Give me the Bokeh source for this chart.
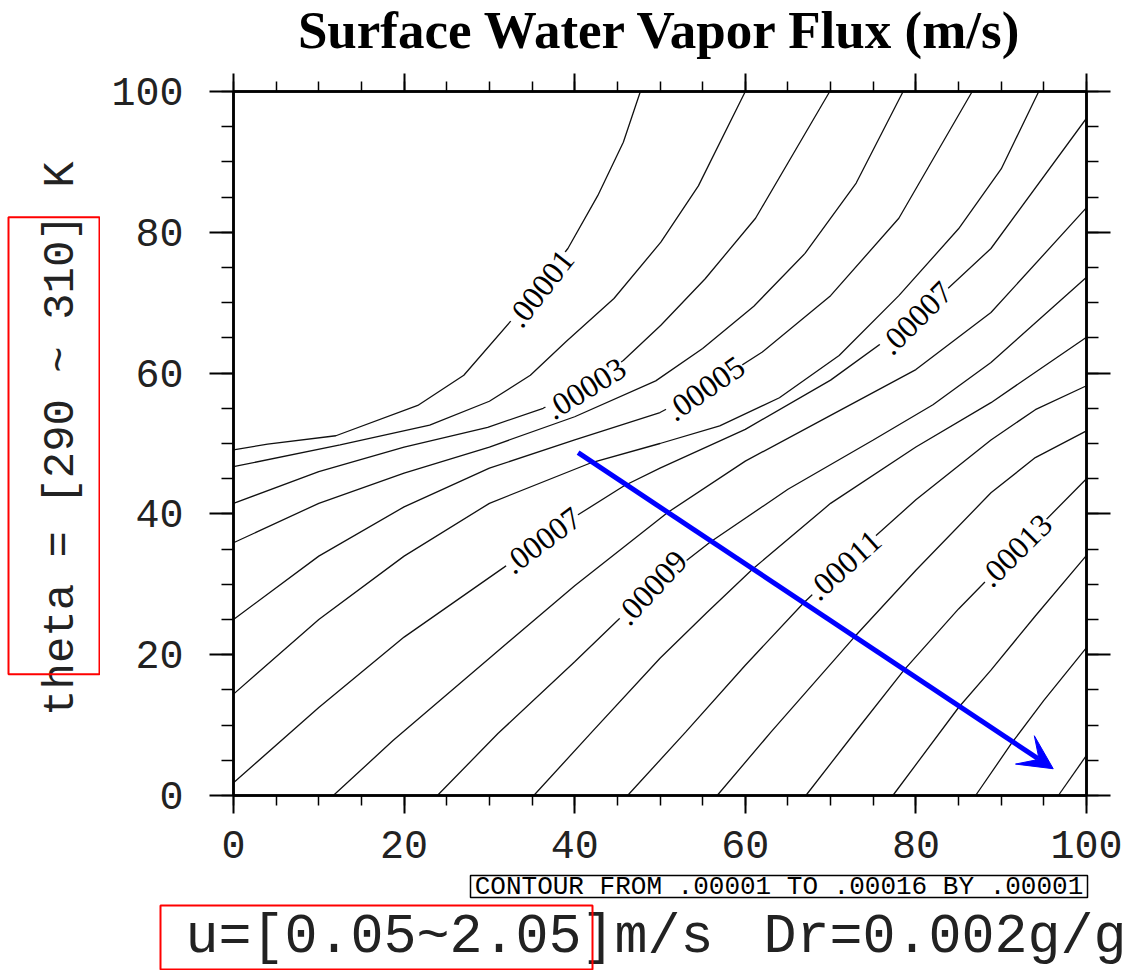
from bokeh.plotting import figure
from bokeh.layouts import column, row
from bokeh.models import LinearAxis, SingleIntervalTicker, Label, Arrow, VeeHead, CustomJSTickFormatter
from bokeh.embed import file_html
from bokeh.resources import INLINE
from bokeh.core.properties import value
import math

# ---------------- data ----------------
c01_x = [0, 4, 12, 21.6, 27, 32.8, 39.2, 42.7, 45.7, 47.7]
c01_y = [49.1, 49.9, 51.1, 55.4, 59.7, 67.8, 77.7, 85.2, 92.8, 100]
c02_x = [0, 12.5, 23, 30, 34.8, 39, 44.6, 50.1, 54.5, 60]
c02_y = [46.7, 49.8, 52.6, 56, 59.7, 64.5, 70.6, 78.6, 86.6, 100]
c03_x = [0, 10, 20, 29.8, 36.3, 41.3, 45.7, 50.1, 55.3, 61.2, 69.9]
c03_y = [41.5, 46, 49.5, 52.3, 55, 58.2, 61.8, 66.8, 73.4, 82, 100]
c04_x = [0, 10, 20, 30, 40, 49.5, 55, 61, 67, 73, 78.5]
c04_y = [35.9, 41.5, 45.8, 49.5, 53.8, 58.9, 63.5, 69.5, 77, 87, 100]
c05_x = [0, 10, 20, 30, 40, 50, 55.3, 62, 70, 78, 86.6]
c05_y = [25, 34, 41, 46.5, 50.5, 54.4, 57.8, 63, 71, 82, 100]
c06_x = [0, 10, 20, 30, 42, 50, 57, 64, 71, 78, 85, 90, 94.4]
c06_y = [14.4, 25, 34, 41.5, 47.3, 50, 52.5, 56.5, 62.5, 71, 80.5, 89, 100]
c07_x = [0, 10, 20, 31.7, 40.3, 45.8, 50, 60, 70, 80, 88.8, 100]
c07_y = [1.8, 12.5, 22.5, 32.4, 39.8, 44, 46.5, 52, 59, 67.8, 77.7, 96.2]
c08_x = [11.7, 18.7, 30, 40, 50.9, 60, 70, 80, 88.8, 100]
c08_y = [0, 7.8, 19.5, 29.8, 40.2, 47.5, 54, 60.5, 68.6, 83.5]
c09_x = [23.9, 31, 40, 49, 55.9, 65, 75, 82, 88.8, 100]
c09_y = [0, 8.8, 19, 29.5, 36, 43.5, 50.5, 55.5, 61.5, 73.6]
c10_x = [35.2, 42, 50, 55.5, 60.9, 70, 80, 88.8, 100]
c10_y = [0, 9, 19.5, 26, 32.2, 41.5, 49.5, 55.8, 65.1]
c11_x = [46.2, 53, 60, 66.8, 71.7, 80, 88.8, 94, 100]
c11_y = [0, 9, 18.5, 27.3, 33, 42, 50.5, 54.8, 58.2]
c12_x = [56.7, 63, 72.7, 80, 88.8, 94, 100]
c12_y = [0, 9, 22.4, 32, 43, 48, 51.8]
c13_x = [67.1, 73, 78.6, 85, 91.7, 100]
c13_y = [0, 9.2, 17.8, 26.5, 34.8, 45]
c14_x = [77.3, 85, 88.8, 94, 100]
c14_y = [0, 12.5, 17.8, 25.5, 34.1]
c15_x = [87, 91.2, 95, 100]
c15_y = [0, 7.4, 13.5, 21]
c16_x = [96.7, 100]
c16_y = [0, 5.7]

contour_xs = [c01_x, c02_x, c03_x, c04_x, c05_x, c06_x, c07_x, c08_x,
              c09_x, c10_x, c11_x, c12_x, c13_x, c14_x, c15_x, c16_x]
contour_ys = [c01_y, c02_y, c03_y, c04_y, c05_y, c06_y, c07_y, c08_y,
              c09_y, c10_y, c11_y, c12_y, c13_y, c14_y, c15_y, c16_y]

# contour labels: text, x, y, angle (degrees)
lab_text = [".00001", ".00003", ".00005", ".00007", ".00007", ".00009", ".00011", ".00013"]
lab_x = [36.0, 41.3, 55.3, 80.0, 36.2, 49.0, 71.6, 91.7]
lab_y = [72.0, 57.8, 57.8, 67.8, 36.2, 29.5, 32.7, 34.8]
lab_ang = [52, 32, 35, 45, 37, 47, 42, 45]

tick_interval = 20
arrow_start = (40.4, 48.7)
arrow_end = (96.1, 3.8)

title_text = "Surface Water Vapor Flux (m/s)"
ylabel_text = "theta = [290 ~ 310] K"
xlabel_1 = "u=[0.05~2.05]m/s"
xlabel_2 = "Dr=0.002g/g"
info_text = "CONTOUR FROM .00001 TO .00016 BY .00001"

MONO = "Liberation Mono"
SERIF = "Liberation Serif"


def pixel_fig(w, h):
    f = figure(width=w, height=h, x_range=(0, w), y_range=(h, 0),
               output_backend="svg", toolbar_location=None,
               x_axis_type=None, y_axis_type=None,
               min_border=0, min_border_left=0, min_border_right=0,
               min_border_top=0, min_border_bottom=0)
    f.grid.visible = False
    f.outline_line_color = None
    f.background_fill_color = "white"
    f.border_fill_color = "white"
    return f


# ---------------- title strip ----------------
top = pixel_fig(1136, 70)
top.text(x=[660], y=[29], text=[title_text], text_font=value(SERIF),
         text_font_style="bold", text_font_size="53px",
         text_align="center", text_baseline="middle", text_color="black")

# ---------------- left strip (y label) ----------------
left = pixel_fig(100, 801)
left.text(x=[60], y=[395], text=[ylabel_text], angle=math.pi / 2, text_font=value(MONO),
          text_font_size="44px", text_align="center", text_baseline="middle",
          text_color="#222222")
left.quad(left=[8], right=[99], top=[143], bottom=[663], fill_color=None,
          line_color="red", line_width=2)

# ---------------- main plot ----------------
p = figure(width=1036, height=801, x_range=(0, 100), y_range=(0, 100),
           output_backend="svg", toolbar_location=None,
           min_border_left=133, min_border_right=50, min_border_top=21, min_border_bottom=76)
p.grid.visible = False
p.outline_line_color = "black"
p.outline_line_width = 2.5
p.background_fill_color = "white"
p.border_fill_color = "white"

ticker = SingleIntervalTicker(interval=tick_interval, num_minor_ticks=4)
p.add_layout(LinearAxis(), "above")
p.add_layout(LinearAxis(), "right")

for ax in p.axis:
    ax.ticker = ticker
    ax.axis_line_width = 2.5
    ax.major_tick_line_width = 2
    ax.minor_tick_line_width = 1.5
    ax.major_tick_in = 0
    ax.minor_tick_in = 0
    ax.major_label_text_font = MONO
    ax.major_label_text_font_size = "40px"
    ax.major_label_text_color = "#222222"

for ax in p.above + p.below:
    ax.major_tick_out = 18
    ax.minor_tick_out = 10
for ax in p.left + p.right:
    ax.major_tick_out = 24
    ax.minor_tick_out = 12

blank = CustomJSTickFormatter(code="return ''")
p.above[0].formatter = blank
p.right[0].formatter = blank
p.below[0].major_label_standoff = 17
p.left[0].major_label_standoff = 26

# contour lines
p.multi_line(xs=contour_xs, ys=contour_ys, line_color="#111111", line_width=1.3)

# contour labels
for t, x, y, a in zip(lab_text, lab_x, lab_y, lab_ang):
    p.add_layout(Label(x=x, y=y, text=t, angle=math.radians(a),
                       text_font=SERIF, text_font_size="32px",
                       text_align="center", text_baseline="middle", text_color="black",
                       background_fill_color="white"))

# arrow
p.add_layout(Arrow(x_start=arrow_start[0], y_start=arrow_start[1],
                   x_end=arrow_end[0], y_end=arrow_end[1],
                   line_color="#0000ff", line_width=5,
                   end=VeeHead(size=34, fill_color="#0000ff", line_color="#0000ff")))

# ---------------- bottom strip ----------------
bot = pixel_fig(1136, 99)
bot.quad(left=[470], right=[1087], top=[4], bottom=[26], fill_color=None,
         line_color="black", line_width=1.5)
bot.text(x=[778.5], y=[15.5], text=[info_text], text_font=value(MONO),
         text_font_size="26px", text_align="center", text_baseline="middle",
         text_color="black")
bot.text(x=[185], y=[66], text=[xlabel_1], text_font=value(MONO),
         text_font_size="55px", text_align="left", text_baseline="middle",
         text_color="#222222")
bot.text(x=[763], y=[66], text=[xlabel_2], text_font=value(MONO),
         text_font_size="55px", text_align="left", text_baseline="middle",
         text_color="#222222")
bot.quad(left=[160], right=[592], top=[34], bottom=[98], fill_color=None,
         line_color="red", line_width=2)

layout = column(top, row(left, p), bot)
open("out.html", "w").write(file_html(layout, INLINE))
